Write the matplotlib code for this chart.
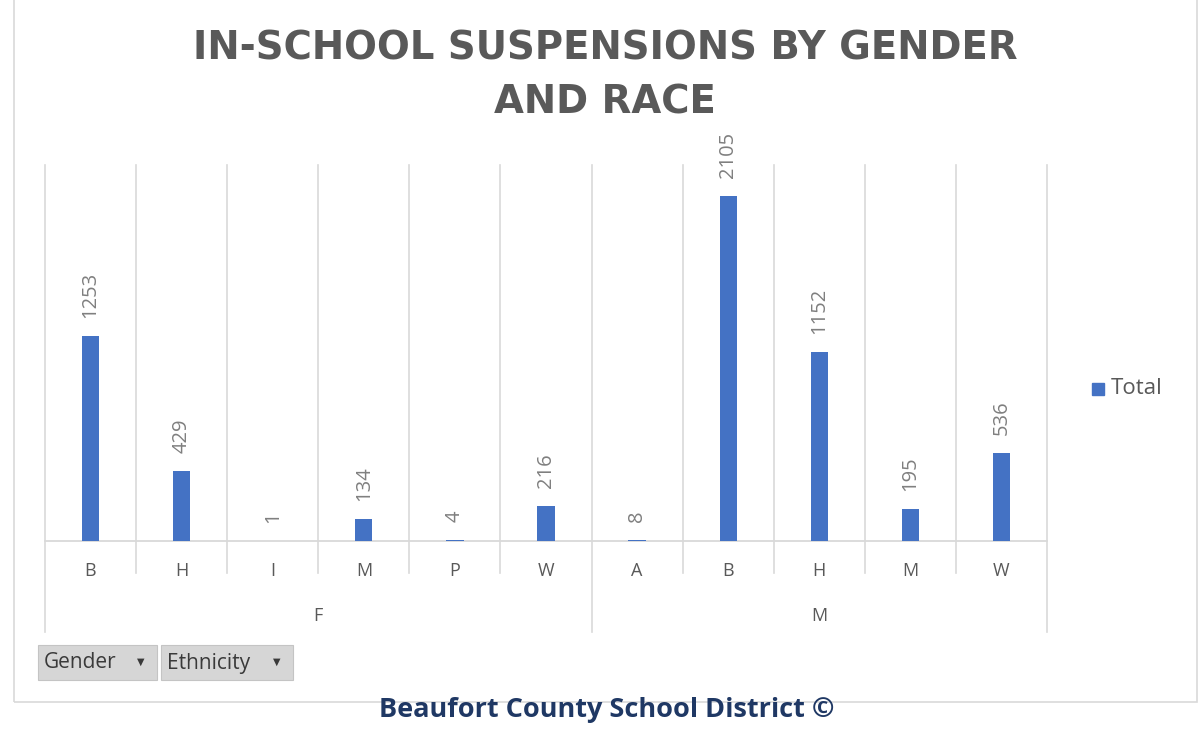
import matplotlib

matplotlib.use("Agg")
import matplotlib.pyplot as plt
import matplotlib.transforms as mtransforms
from matplotlib.patches import Rectangle

# data
genders = ["F", "F", "F", "F", "F", "F", "M", "M", "M", "M", "M"]
ethnicity = ["B", "H", "I", "M", "P", "W", "A", "B", "H", "M", "W"]
totals = [1253, 429, 1, 134, 4, 216, 8, 2105, 1152, 195, 536]
group_names = ["F", "M"]

BAR = "#4472C4"
GRID = "#d9d9d9"
TXT = "#595959"

plt.rcParams["font.family"] = ["Open Sans", "DejaVu Sans"]

fig = plt.figure(figsize=(12, 7.4), dpi=100)
W, H = 1200, 740

# outer chart frame
fig.patches.append(Rectangle((14 / W, 1 - 702 / H), (1197 - 14) / W, 702 / H + 0.01,
                             transform=fig.transFigure, fill=False, ec=GRID, lw=1.2))

ax = fig.add_axes([45 / W, 1 - 541 / H, (1047 - 45) / W, (541 - 165) / H])
x = list(range(len(totals)))
ax.bar(x, totals, width=0.19, color=BAR, zorder=3)
ax.set_xlim(-0.5, len(totals) - 0.5)
ax.set_ylim(0, 2294)
for s in ax.spines.values():
    s.set_visible(False)
ax.set_xticks([])
ax.set_yticks([])

trans = mtransforms.blended_transform_factory(ax.transData, ax.transAxes)
# baseline
ax.plot([-0.5, len(totals) - 0.5], [0, 0], transform=trans, color=GRID, lw=1.3, clip_on=False)
# category boundaries; the gender separators run down through the group labels
starts = [i for i in range(len(genders)) if i == 0 or genders[i] != genders[i - 1]]
for b in range(len(totals) + 1):
    long = b in starts or b == len(totals)
    y0 = -0.242 if long else -0.085
    ax.plot([b - 0.5, b - 0.5], [1, y0], transform=trans, color=GRID, lw=1.2,
            clip_on=False, zorder=1)

for xi, v in zip(x, totals):
    ax.annotate(str(v), (xi, v), xytext=(0, 13), textcoords="offset points",
                rotation=90, ha="center", va="bottom", fontsize=14.5, color="#7f7f7f")

for xi, e in zip(x, ethnicity):
    ax.text(xi, -0.08, e, transform=trans, ha="center", va="center", fontsize=13, color=TXT)

for g in group_names:
    idx = [i for i, gg in enumerate(genders) if gg == g]
    cx = (idx[0] + idx[-1]) / 2
    ax.text(cx, -0.2, g, transform=trans, ha="center", va="center", fontsize=13, color=TXT)

# title
for line, yy in [("IN-SCHOOL SUSPENSIONS BY GENDER", 48), ("AND RACE", 103)]:
    fig.text(605 / W, 1 - yy / H, line, ha="center", va="center", fontsize=27.8,
             fontweight="bold", color=TXT, family="DejaVu Sans")

# legend
fig.patches.append(Rectangle((1092 / W, 1 - 395 / H), 12 / W, 12 / H,
                             transform=fig.transFigure, color=BAR))
fig.text(1111 / W, 1 - 389 / H, "Total", ha="left", va="center", fontsize=16, color=TXT)

# pivot field buttons
for label, x0, x1 in [("Gender", 38, 157), ("Ethnicity", 161, 293)]:
    fig.patches.append(Rectangle((x0 / W, 1 - 680 / H), (x1 - x0) / W, 35 / H,
                                 transform=fig.transFigure, fc="#d6d6d6", ec="#c4c4c4", lw=0.8))
    fig.text((x0 + 6) / W, 1 - 663 / H, label, ha="left", va="center", fontsize=15,
             color="#3a3a3a")
    fig.text((x1 - 16) / W, 1 - 662 / H, "\u25BC", ha="center", va="center", fontsize=7,
             color="#3a3a3a", family="DejaVu Sans")

# footer
fig.text(607 / W, 1 - 710 / H, "Beaufort County School District \u00A9", ha="center",
         va="center", fontsize=19.5, fontweight="bold", color="#1f3864")

fig.savefig("out.png", dpi=100)
